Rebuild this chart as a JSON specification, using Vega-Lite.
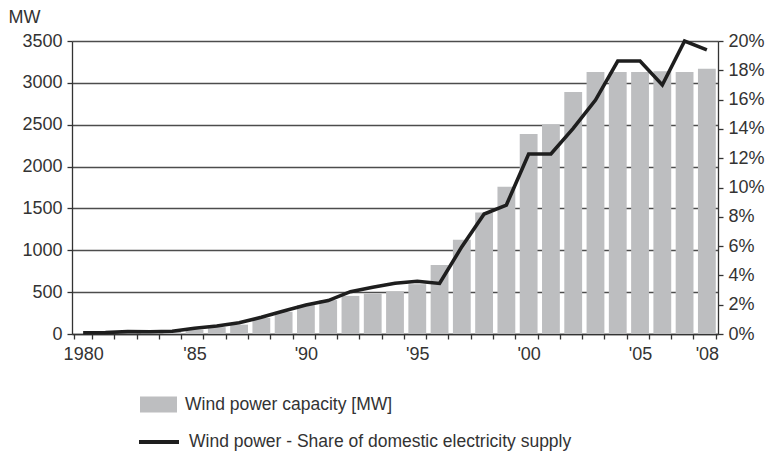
{
  "$schema": "https://vega.github.io/schema/vega-lite/v6.json",
  "width": 646,
  "height": 293,
  "autosize": {"type": "none"},
  "padding": {"left": 72, "top": 41, "right": 58, "bottom": 123},
  "background": "white",
  "config": {
    "font": "Liberation Sans",
    "view": {"stroke": null},
    "axis": {"labelFont": "Liberation Sans", "labelFontSize": 18, "labelColor": "#333333", "titleColor": "#333333", "domainColor": "#333333", "tickColor": "#333333", "tickSize": 5, "domainWidth": 1.3, "tickWidth": 1.3},
    "legend": {"orient": "none", "padding": 0, "labelFont": "Liberation Sans", "labelFontSize": 17.5, "labelColor": "#333333", "labelOffset": 8, "labelLimit": 0, "title": null}
  },
  "data": {
    "values": [
      {"year": 1980, "mw": 3, "share": 0.09},
      {"year": 1981, "mw": 7, "share": 0.10},
      {"year": 1982, "mw": 12, "share": 0.16},
      {"year": 1983, "mw": 20, "share": 0.15},
      {"year": 1984, "mw": 27, "share": 0.19},
      {"year": 1985, "mw": 50, "share": 0.39},
      {"year": 1986, "mw": 82, "share": 0.55},
      {"year": 1987, "mw": 112, "share": 0.77},
      {"year": 1988, "mw": 192, "share": 1.14},
      {"year": 1989, "mw": 265, "share": 1.57},
      {"year": 1990, "mw": 345, "share": 1.98},
      {"year": 1991, "mw": 405, "share": 2.28},
      {"year": 1992, "mw": 455, "share": 2.89},
      {"year": 1993, "mw": 482, "share": 3.19},
      {"year": 1994, "mw": 510, "share": 3.46},
      {"year": 1995, "mw": 595, "share": 3.6},
      {"year": 1996, "mw": 825, "share": 3.45},
      {"year": 1997, "mw": 1127, "share": 5.96},
      {"year": 1998, "mw": 1450, "share": 8.19},
      {"year": 1999, "mw": 1760, "share": 8.8},
      {"year": 2000, "mw": 2390, "share": 12.29},
      {"year": 2001, "mw": 2505, "share": 12.29},
      {"year": 2002, "mw": 2890, "share": 14.04},
      {"year": 2003, "mw": 3130, "share": 15.97},
      {"year": 2004, "mw": 3130, "share": 18.63},
      {"year": 2005, "mw": 3130, "share": 18.63},
      {"year": 2006, "mw": 3140, "share": 17.0},
      {"year": 2007, "mw": 3130, "share": 20.0},
      {"year": 2008, "mw": 3170, "share": 19.39}
    ]
  },
  "encoding": {
    "x": {
      "field": "year",
      "type": "ordinal",
      "scale": {"paddingInner": 0.2, "paddingOuter": 0.1},
      "axis": {
        "title": null,
        "labelAngle": 0,
        "tickBand": "extent",
        "labelPadding": 6,
        "labelOverlap": false,
        "labelFlush": false,
        "labelBound": false,
        "labelExpr": "datum.value == 1980 ? '1980' : ((datum.value % 5 == 0 || datum.value == 2008) ? \"'\" + slice(toString(datum.value), 2) : '')"
      }
    }
  },
  "layer": [
    {
      "mark": {"type": "bar"},
      "encoding": {
        "y": {
          "field": "mw",
          "type": "quantitative",
          "scale": {"domain": [0, 3500], "nice": false},
          "axis": {
            "orient": "left",
            "values": [0, 500, 1000, 1500, 2000, 2500, 3000, 3500],
            "format": "d",
            "grid": true,
            "gridColor": "#4d4d4d",
            "gridWidth": 1.3,
            "labelPadding": 5,
            "title": "MW",
            "titleAngle": 0,
            "titleAlign": "left",
            "titleBaseline": "alphabetic",
            "titleX": -64,
            "titleY": -19,
            "titleFontSize": 18,
            "titleFontWeight": "normal",
            "titleFont": "Liberation Sans"
          }
        },
        "fill": {
          "datum": "Wind power capacity [MW]",
          "scale": {"range": ["#bdbec0"]},
          "legend": {"legendX": 68, "legendY": 345, "symbolType": "M-1,-0.43H1V0.43H-1Z", "symbolSize": 1369, "symbolStrokeWidth": 0, "symbolOpacity": 1}
        }
      }
    },
    {
      "mark": {"type": "line", "strokeWidth": 3.6, "strokeJoin": "miter"},
      "encoding": {
        "y": {
          "field": "share",
          "type": "quantitative",
          "scale": {"domain": [0, 20], "nice": false},
          "axis": {
            "orient": "right",
            "values": [0, 2, 4, 6, 8, 10, 12, 14, 16, 18, 20],
            "grid": false,
            "labelPadding": 5,
            "title": null,
            "labelExpr": "datum.value + '%'"
          }
        },
        "stroke": {
          "datum": "Wind power - Share of domestic electricity supply",
          "scale": {"range": ["#1e1e1e"]},
          "legend": {"legendX": 65, "legendY": 379, "symbolType": "stroke", "symbolSize": 1600, "symbolStrokeWidth": 4}
        }
      }
    }
  ],
  "resolve": {"scale": {"y": "independent"}}
}
